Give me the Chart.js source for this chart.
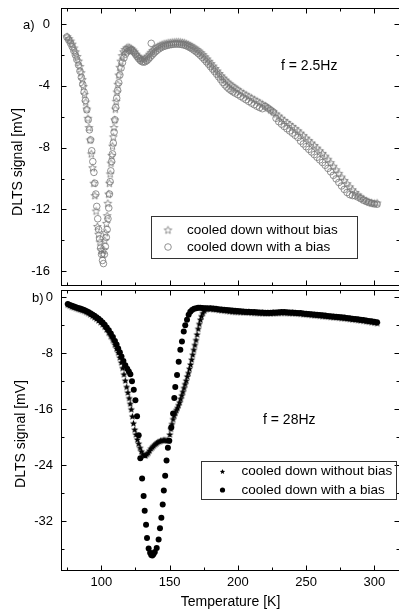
<!DOCTYPE html>
<html>
<head>
<meta charset="utf-8">
<script src="https://cdn.jsdelivr.net/npm/chart.js@4.4.0/dist/chart.umd.min.js"></script>
<style>
  html, body { margin: 0; padding: 0; background: #fff; overflow: hidden; width: 399px; height: 615px; }
  canvas { position: absolute; left: 0; }
  #topChart { top: 0; }
  #bottomChart { top: 288px; }
</style>
</head>
<body>
<canvas id="topChart" width="400" height="288"></canvas>
<canvas id="bottomChart" width="400" height="327"></canvas>
<script>
// a) f = 2.5Hz -- temperature [K] and DLTS signal [mV]
const topStarT = [
  75.0, 76.3, 77.6, 78.8, 80.0, 81.2, 82.3, 83.4, 84.4, 85.3,
  86.2, 87.0, 87.8, 88.6, 89.4, 90.2, 91.0, 91.8, 92.7, 93.6,
  94.5, 95.3, 96.2, 97.1, 98.0, 99.0, 100.0, 101.0, 101.8, 102.5,
  103.0, 103.7, 104.3, 104.8, 105.3, 105.9, 106.5, 107.1, 107.6, 108.2,
  108.8, 109.3, 109.8, 110.3, 110.9, 111.5, 112.1, 112.8, 113.5, 114.3,
  115.2, 116.2, 117.3, 118.4, 119.6, 120.8, 122.0, 123.2, 124.4, 125.6,
  126.8, 128.0, 129.2, 130.4, 131.6, 132.8, 134.0, 135.2, 136.4, 137.6,
  138.8, 140.0, 141.5, 143.0, 144.5, 146.0, 147.5, 149.0, 150.5, 152.0,
  153.5, 155.0, 156.5, 158.0, 159.5, 161.0, 162.5, 164.0, 165.5, 167.0,
  168.5, 170.0, 171.5, 173.0, 174.5, 176.0, 177.5, 179.0, 180.5, 182.0,
  183.5, 185.0, 186.5, 188.0, 189.5, 191.0, 192.5, 194.0, 195.5, 197.0,
  198.5, 200.0, 202.0, 204.0, 206.0, 208.0, 210.0, 212.0, 214.0, 216.0,
  218.0, 220.0, 222.0, 224.0, 226.0, 228.0, 230.0, 232.0, 234.0, 236.0,
  238.0, 240.0, 242.0, 244.0, 246.0, 248.0, 250.0, 252.0, 254.0, 256.0,
  258.0, 260.0, 262.0, 264.0, 266.0, 268.0, 270.0, 272.0, 274.0, 276.0,
  278.0, 280.0, 282.0, 284.0, 286.0, 288.0, 290.0, 292.0, 294.0, 296.0,
  298.0, 300.0, 302.0
];
const topStarV = [
  -0.82, -0.95, -1.10, -1.30, -1.55, -1.80, -2.10, -2.40, -2.75, -3.15,
  -3.60, -4.05, -4.55, -5.05, -5.50, -6.10, -6.70, -7.50, -8.40, -9.30,
  -10.3, -11.1, -12.1, -13.1, -13.6, -14.1, -14.6, -14.9, -14.6, -14.0,
  -13.5, -12.9, -12.4, -11.6, -11.0, -10.3, -9.70, -9.00, -8.50, -7.90,
  -7.30, -6.70, -6.20, -5.50, -5.00, -4.40, -3.90, -3.30, -2.80, -2.40,
  -2.05, -1.80, -1.65, -1.55, -1.50, -1.52, -1.58, -1.68, -1.80, -1.95,
  -2.08, -2.18, -2.25, -2.28, -2.25, -2.18, -2.08, -1.95, -1.83, -1.72,
  -1.62, -1.53, -1.45, -1.38, -1.32, -1.28, -1.25, -1.22, -1.20, -1.18,
  -1.17, -1.16, -1.16, -1.17, -1.19, -1.22, -1.27, -1.33, -1.40, -1.48,
  -1.56, -1.65, -1.75, -1.86, -1.98, -2.12, -2.26, -2.41, -2.56, -2.72,
  -2.88, -3.04, -3.20, -3.36, -3.50, -3.63, -3.76, -3.87, -3.97, -4.07,
  -4.16, -4.25, -4.37, -4.48, -4.58, -4.68, -4.78, -4.88, -4.98, -5.08,
  -5.18, -5.30, -5.42, -5.55, -5.68, -5.82, -5.96, -6.10, -6.24, -6.37,
  -6.50, -6.63, -6.77, -6.91, -7.06, -7.22, -7.38, -7.54, -7.70, -7.86,
  -8.03, -8.20, -8.37, -8.55, -8.75, -8.97, -9.20, -9.43, -9.66, -9.90,
  -10.12, -10.33, -10.53, -10.72, -10.90, -11.06, -11.20, -11.32, -11.42, -11.50,
  -11.56, -11.60, -11.58
];
const topCircT = [
  74.8, 76.2, 77.5, 78.7, 79.9, 81.0, 82.1, 83.3, 84.4, 85.4,
  86.4, 87.4, 88.4, 89.4, 90.4, 91.3, 92.2, 93.0, 93.8, 94.6,
  95.3, 96.0, 96.7, 97.4, 98.1, 98.8, 99.5, 100.2, 100.9, 101.6,
  102.3, 103.0, 103.7, 104.3, 104.9, 105.5, 106.0, 106.5, 107.0, 107.6,
  108.2, 108.8, 109.4, 110.0, 110.6, 111.3, 112.0, 112.8, 113.6, 114.5,
  115.5, 116.6, 117.8, 119.0, 120.2, 121.4, 122.6, 123.8, 125.0, 126.2,
  127.4, 128.6, 129.8, 131.0, 132.2, 133.4, 134.6, 135.8, 136.6, 137.2,
  138.4, 139.6, 141.0, 142.5, 144.0, 145.5, 147.0, 148.5, 150.0, 151.5,
  153.0, 154.5, 156.0, 157.5, 159.0, 160.5, 162.0, 163.5, 165.0, 166.5,
  168.0, 169.5, 171.0, 172.5, 174.0, 175.5, 177.0, 178.5, 180.0, 181.5,
  183.0, 184.5, 186.0, 187.5, 189.0, 190.5, 192.0, 193.5, 195.0, 196.5,
  198.0, 200.0, 202.0, 204.0, 206.0, 208.0, 210.0, 212.0, 214.0, 216.0,
  218.0, 220.0, 222.0, 224.0, 226.0, 228.0, 230.0, 232.0, 234.0, 236.0,
  238.0, 240.0, 242.0, 244.0, 246.0, 248.0, 250.0, 252.0, 254.0, 256.0,
  258.0, 260.0, 262.0, 264.0, 266.0, 268.0, 270.0, 272.0, 274.0, 276.0,
  278.0, 280.0, 282.0, 284.0, 286.0, 288.0, 290.0, 292.0, 294.0, 296.0,
  298.0, 300.0, 302.0
];
const topCircV = [
  -0.84, -1.04, -1.25, -1.47, -1.73, -2.00, -2.30, -2.65, -3.05, -3.45,
  -3.90, -4.40, -4.95, -5.55, -6.20, -6.85, -7.50, -8.20, -8.90, -9.60,
  -10.3, -11.0, -11.8, -12.6, -13.3, -13.9, -14.5, -14.9, -15.3, -15.5,
  -14.9, -14.4, -13.8, -13.3, -12.6, -11.9, -11.0, -10.2, -9.50, -8.90,
  -8.40, -7.70, -7.00, -6.20, -5.40, -4.80, -4.30, -3.80, -3.30, -2.85,
  -2.50, -2.20, -1.95, -1.80, -1.72, -1.70, -1.74, -1.82, -1.95, -2.10,
  -2.24, -2.36, -2.44, -2.47, -2.44, -2.37, -2.27, -2.15, -1.25, -2.02,
  -1.90, -1.80, -1.70, -1.60, -1.52, -1.46, -1.42, -1.38, -1.35, -1.33,
  -1.31, -1.30, -1.30, -1.31, -1.33, -1.36, -1.40, -1.46, -1.53, -1.61,
  -1.70, -1.80, -1.91, -2.03, -2.16, -2.30, -2.45, -2.60, -2.76, -2.92,
  -3.08, -3.25, -3.42, -3.60, -3.78, -3.94, -4.08, -4.20, -4.30, -4.39,
  -4.47, -4.57, -4.68, -4.79, -4.90, -5.01, -5.12, -5.22, -5.32, -5.41,
  -5.48, -5.32, -5.44, -5.57, -5.70, -6.10, -6.32, -6.48, -6.63, -6.78,
  -6.92, -7.06, -7.20, -7.34, -7.58, -7.76, -7.94, -8.11, -8.28, -8.45,
  -8.62, -8.79, -8.96, -9.14, -9.34, -9.56, -9.79, -10.02, -10.25, -10.48,
  -10.70, -10.90, -11.04, -11.10, -11.12, -11.20, -11.30, -11.40, -11.48, -11.55,
  -11.60, -11.64, -11.66
];

// b) f = 28Hz
const botStarT = [
  75.5, 77.0, 78.5, 80.0, 81.5, 83.0, 84.5, 86.0, 87.5, 89.0,
  90.5, 92.0, 93.5, 95.0, 96.5, 98.0, 99.5, 101.0, 102.5, 104.0,
  105.5, 107.0, 108.5, 110.0, 111.2, 112.4, 113.6, 114.6, 115.6, 116.6,
  117.6, 118.6, 119.5, 120.4, 121.2, 122.0, 122.8, 123.6, 124.5, 125.4,
  126.4, 127.4, 128.4, 129.4, 130.4, 131.4, 132.4, 133.4, 134.4, 135.4,
  136.4, 137.4, 138.4, 139.4, 140.4, 141.4, 142.4, 143.4, 144.4, 145.4,
  146.4, 147.4, 148.4, 149.4, 150.2, 151.0, 151.8, 152.6, 153.4, 154.2,
  155.0, 155.8, 156.6, 157.4, 158.2, 159.0, 159.8, 160.6, 161.4, 162.2,
  163.0, 163.8, 164.6, 165.4, 166.2, 167.0, 167.8, 168.6, 169.4, 170.2,
  171.0, 171.8, 172.6, 173.4, 174.4, 175.4, 176.6, 178.0, 180.0, 182.0,
  184.0, 186.0, 188.0, 190.0, 192.0, 194.0, 196.0, 198.0, 200.0, 202.0,
  204.0, 206.0, 208.0, 210.0, 212.0, 214.0, 216.0, 218.0, 220.0, 222.0,
  224.0, 226.0, 228.0, 230.0, 232.0, 234.0, 236.0, 238.0, 240.0, 242.0,
  244.0, 246.0, 248.0, 250.0, 252.0, 254.0, 256.0, 258.0, 260.0, 262.0,
  264.0, 266.0, 268.0, 270.0, 272.0, 274.0, 276.0, 278.0, 280.0, 282.0,
  284.0, 286.0, 288.0, 290.0, 292.0, 294.0, 296.0, 298.0, 300.0, 302.0
];
const botStarV = [
  -1.05, -1.20, -1.35, -1.45, -1.55, -1.65, -1.75, -1.85, -1.95, -2.10,
  -2.25, -2.45, -2.65, -2.85, -3.05, -3.30, -3.55, -3.85, -4.20, -4.60,
  -5.05, -5.55, -6.10, -6.75, -7.30, -7.90, -8.60, -9.30, -10.1, -11.0,
  -11.9, -12.8, -13.6, -14.4, -15.2, -16.0, -17.0, -18.0, -18.9, -19.6,
  -20.3, -20.9, -21.5, -22.0, -22.4, -22.6, -22.6, -22.4, -22.2, -21.9,
  -21.6, -21.4, -21.2, -21.0, -20.85, -20.7, -20.6, -20.5, -20.45, -20.4,
  -20.4, -20.4, -20.45, -20.5, -19.6, -18.8, -18.1, -17.4, -16.9, -16.5,
  -16.1, -15.8, -15.4, -15.0, -14.5, -14.0, -13.5, -12.95, -12.4, -11.9,
  -11.3, -10.8, -10.2, -9.60, -8.90, -8.20, -7.50, -6.80, -6.10, -5.30,
  -4.50, -3.80, -3.20, -2.70, -2.25, -1.90, -1.70, -1.60, -1.65, -1.70,
  -1.75, -1.80, -1.85, -1.90, -1.95, -2.00, -2.05, -2.08, -2.10, -2.12,
  -2.14, -2.16, -2.18, -2.20, -2.22, -2.24, -2.26, -2.28, -2.30, -2.30,
  -2.30, -2.28, -2.26, -2.24, -2.22, -2.22, -2.24, -2.26, -2.28, -2.30,
  -2.33, -2.36, -2.40, -2.44, -2.48, -2.52, -2.56, -2.60, -2.64, -2.68,
  -2.72, -2.76, -2.80, -2.84, -2.88, -2.92, -2.96, -3.00, -3.05, -3.10,
  -3.15, -3.20, -3.25, -3.30, -3.36, -3.42, -3.48, -3.55, -3.62, -3.70
];
const botCircT = [
  75.5, 77.0, 78.5, 80.0, 81.5, 83.0, 84.5, 86.0, 87.5, 89.0,
  90.5, 92.0, 93.5, 95.0, 96.5, 98.0, 99.5, 101.0, 102.5, 104.0,
  105.5, 107.0, 108.5, 110.0, 111.2, 112.4, 113.6, 114.8, 116.2, 117.6,
  119.0, 120.2, 121.3, 122.5, 123.8, 125.0, 126.2, 127.4, 128.6, 129.9,
  131.0, 131.8, 132.8, 133.5, 134.7, 135.8, 136.6, 137.4, 138.2, 139.2,
  140.6, 142.0, 143.0, 144.0, 145.0, 145.8, 146.8, 147.8, 148.8, 149.8,
  151.2, 152.6, 153.5, 154.2, 155.5, 156.7, 157.9, 159.1, 160.4, 161.5,
  162.8, 164.0, 165.2, 166.5, 168.0, 169.5, 171.0, 172.5, 174.0, 175.5,
  177.0, 178.5, 180.0, 182.0, 184.0, 186.0, 188.0, 190.0, 192.0, 194.0,
  196.0, 198.0, 200.0, 202.0, 204.0, 206.0, 208.0, 210.0, 212.0, 214.0,
  216.0, 218.0, 220.0, 222.0, 224.0, 226.0, 228.0, 230.0, 232.0, 234.0,
  236.0, 238.0, 240.0, 242.0, 244.0, 246.0, 248.0, 250.0, 252.0, 254.0,
  256.0, 258.0, 260.0, 262.0, 264.0, 266.0, 268.0, 270.0, 272.0, 274.0,
  276.0, 278.0, 280.0, 282.0, 284.0, 286.0, 288.0, 290.0, 292.0, 294.0,
  296.0, 298.0, 300.0, 302.0
];
const botCircV = [
  -0.95, -1.10, -1.22, -1.32, -1.42, -1.52, -1.62, -1.72, -1.82, -1.95,
  -2.10, -2.28, -2.46, -2.65, -2.85, -3.08, -3.32, -3.60, -3.92, -4.30,
  -4.72, -5.18, -5.68, -6.25, -6.75, -7.30, -7.85, -8.45, -9.10, -9.70,
  -10.2, -10.6, -11.0, -12.0, -13.2, -14.7, -17.0, -19.7, -23.0, -25.9,
  -28.4, -30.5, -32.5, -34.4, -35.9, -36.5, -36.8, -36.9, -36.7, -36.4,
  -35.8, -34.6, -33.0, -31.5, -29.6, -27.6, -25.5, -23.3, -21.5, -20.5,
  -18.6, -16.6, -14.4, -12.8, -11.1, -9.20, -7.50, -6.30, -4.90, -4.00,
  -3.20, -2.50, -2.05, -1.80, -1.65, -1.55, -1.50, -1.50, -1.52, -1.55,
  -1.58, -1.62, -1.55, -1.60, -1.65, -1.70, -1.74, -1.78, -1.82, -1.86,
  -1.90, -1.93, -1.96, -1.99, -2.02, -2.05, -2.08, -2.10, -2.12, -2.14,
  -2.16, -2.18, -2.20, -2.20, -2.20, -2.18, -2.16, -2.14, -2.12, -2.12,
  -2.14, -2.16, -2.18, -2.20, -2.23, -2.26, -2.30, -2.34, -2.38, -2.42,
  -2.46, -2.50, -2.54, -2.58, -2.62, -2.66, -2.70, -2.74, -2.78, -2.82,
  -2.86, -2.90, -2.95, -3.00, -3.05, -3.10, -3.15, -3.20, -3.26, -3.32,
  -3.38, -3.44, -3.50, -3.56
];

const seriesLabels = ['cooled down without bias', 'cooled down with a bias'];
const xTickLabels = [100, 150, 200, 250, 300];

const FONT = '"Liberation Sans", Arial, sans-serif';
const GRAY = '#777777';
Chart.defaults.font.family = FONT;
Chart.defaults.color = '#000';

// five pointed star used as point style
function starImage(r, fill, stroke) {
  const size = Math.ceil(r * 2) + 3;
  const c = document.createElement('canvas');
  c.width = size; c.height = size;
  const g = c.getContext('2d');
  const cx = size / 2, cy = size / 2 + 0.3;
  g.beginPath();
  for (let i = 0; i < 10; i++) {
    const rr = i % 2 ? r * 0.45 : r;
    const a = -Math.PI / 2 + i * Math.PI / 5;
    const px = cx + rr * Math.cos(a), py = cy + rr * Math.sin(a);
    if (i) g.lineTo(px, py); else g.moveTo(px, py);
  }
  g.closePath();
  if (fill) { g.fillStyle = fill; g.fill(); }
  if (stroke) { g.strokeStyle = stroke; g.lineWidth = 0.8; g.stroke(); }
  return c;
}
const openStar = starImage(4, null, GRAY);
const blackStar = starImage(3.8, '#000', null);
const smallBlackStar = starImage(2.8, '#000', null);

const pts = (xs, ys) => xs.map((x, i) => ({ x: x, y: ys[i] }));

// frame with inward ticks on all four sides
function makeFrame(o) {
  return {
    id: 'frame',
    afterDatasetsDraw(chart) {
      const { ctx, chartArea: a } = chart;
      const x = chart.scales.x, y = chart.scales.y;
      const L = Math.round(a.left) + 0.5, R = Math.round(a.right) - 0.5;
      const T = Math.round(a.top) + 0.5, B = Math.round(a.bottom) - 0.5;
      ctx.save();
      ctx.strokeStyle = '#000';
      ctx.lineWidth = 1;
      ctx.strokeRect(L, T, R - L, B - T);
      ctx.beginPath();
      for (let v = o.xFirst; v <= x.max; v += o.xStep) {
        const p = Math.round(x.getPixelForValue(v)) + 0.5;
        const len = v % o.xMajor === 0 ? 5 : 3;
        ctx.moveTo(p, B); ctx.lineTo(p, B - len);
        ctx.moveTo(p, T); ctx.lineTo(p, T + len);
      }
      for (let v = Math.ceil(y.min / o.yStep) * o.yStep; v <= y.max; v += o.yStep) {
        const p = Math.round(y.getPixelForValue(v)) + 0.5;
        const len = v % o.yMajor === 0 ? 5 : 3;
        ctx.moveTo(L, p); ctx.lineTo(L + len, p);
        ctx.moveTo(R, p); ctx.lineTo(R - len, p);
      }
      ctx.stroke();
      ctx.restore();
    }
  };
}

// panel letter, frequency note, y title and boxed legend
function makeExtras(o) {
  return {
    id: 'extras',
    afterDraw(chart) {
      const ctx = chart.ctx;
      ctx.save();
      ctx.fillStyle = '#000';
      ctx.textBaseline = 'middle';
      o.texts.forEach(t => {
        ctx.save();
        ctx.font = t.font;
        ctx.translate(t.x, t.y);
        if (t.rotate) ctx.rotate(t.rotate);
        ctx.textAlign = t.align || 'left';
        ctx.fillText(t.text, 0, 0);
        ctx.restore();
      });
      const lg = o.legend;
      ctx.strokeStyle = '#333';
      ctx.lineWidth = 1;
      ctx.strokeRect(lg.x + 0.5, lg.y + 0.5, lg.w, lg.h);
      ctx.font = lg.font;
      ctx.textAlign = 'left';
      lg.items.forEach(it => {
        if (it.image) {
          ctx.drawImage(it.image, it.mx - it.image.width / 2, it.my - it.image.height / 2);
        } else {
          ctx.beginPath();
          ctx.arc(it.mx, it.my, it.r, 0, Math.PI * 2);
          if (it.fill) { ctx.fillStyle = it.fill; ctx.fill(); }
          if (it.stroke) { ctx.strokeStyle = it.stroke; ctx.lineWidth = 0.8; ctx.stroke(); }
        }
        ctx.fillStyle = '#000';
        ctx.fillText(it.text, lg.tx, it.my);
      });
      ctx.restore();
    }
  };
}

const X_MIN = 70.5, X_MAX = 318.8;
const noPad = s => { s.paddingTop = 0; s.paddingBottom = 0; s.paddingLeft = 0; s.paddingRight = 0; };

new Chart(document.getElementById('topChart'), {
  type: 'scatter',
  data: {
    datasets: [
      { label: seriesLabels[0], data: pts(topStarT, topStarV), pointStyle: openStar, pointRadius: 4 },
      { label: seriesLabels[1], data: pts(topCircT, topCircV), pointStyle: 'circle', pointRadius: 3.3,
        borderColor: GRAY, borderWidth: 0.8, backgroundColor: 'rgba(0,0,0,0)' }
    ]
  },
  options: {
    responsive: false,
    animation: false,
    events: [],
    layout: { autoPadding: false, padding: { top: 8, bottom: 2, left: 0, right: 0 } },
    plugins: { legend: { display: false }, tooltip: { enabled: false } },
    scales: {
      x: { type: 'linear', min: X_MIN, max: X_MAX, display: false },
      y: {
        type: 'linear', min: -16.95, max: 1.035,
        afterFit: s => { s.width = 61; noPad(s); },
        grid: { display: false, drawTicks: false },
        border: { display: false },
        ticks: { stepSize: 4, includeBounds: false, padding: 11, font: { size: 13 }, color: '#000' }
      }
    }
  },
  plugins: [
    makeFrame({ xFirst: 75, xStep: 25, xMajor: 50, yStep: 2, yMajor: 4 }),
    makeExtras({
      texts: [
        { text: 'a)', x: 23, y: 25, font: '13px ' + FONT },
        { text: 'f = 2.5Hz', x: 281, y: 66, font: '14px ' + FONT },
        { text: 'DLTS signal [mV]', x: 18, y: 162, rotate: -Math.PI / 2, align: 'center', font: '14px ' + FONT }
      ],
      legend: {
        x: 151, y: 216, w: 206, h: 42, tx: 187, font: '13.5px ' + FONT,
        items: [
          { text: seriesLabels[0], mx: 168, my: 230, image: openStar },
          { text: seriesLabels[1], mx: 168, my: 247, r: 3.3, stroke: GRAY }
        ]
      }
    })
  ]
});

new Chart(document.getElementById('bottomChart'), {
  type: 'scatter',
  data: {
    datasets: [
      { label: seriesLabels[1], data: pts(botCircT, botCircV), pointStyle: 'circle', pointRadius: 3,
        backgroundColor: '#000', borderWidth: 0 },
      { label: seriesLabels[0], data: pts(botStarT, botStarV), pointStyle: blackStar, pointRadius: 4 }
    ]
  },
  options: {
    responsive: false,
    animation: false,
    events: [],
    layout: { autoPadding: false, padding: { top: 2, bottom: 0, left: 0, right: 0 } },
    plugins: { legend: { display: false }, tooltip: { enabled: false } },
    scales: {
      x: {
        type: 'linear', min: X_MIN, max: X_MAX,
        afterBuildTicks: s => { s.ticks = xTickLabels.map(v => ({ value: v })); },
        afterFit: s => { s.height = 44; noPad(s); },
        grid: { display: false, drawTicks: false },
        border: { display: false },
        ticks: { autoSkip: false, maxRotation: 0, padding: 4, font: { size: 13 }, color: '#000' },
        title: { display: true, text: 'Temperature [K]', font: { size: 14 }, color: '#000', padding: { top: 0, bottom: 4 } }
      },
      y: {
        type: 'linear', min: -39.1, max: 1.04,
        afterFit: s => { s.width = 61; noPad(s); },
        grid: { display: false, drawTicks: false },
        border: { display: false },
        ticks: { stepSize: 8, includeBounds: false, padding: 8, font: { size: 13 }, color: '#000' }
      }
    }
  },
  plugins: [
    makeFrame({ xFirst: 75, xStep: 25, xMajor: 50, yStep: 4, yMajor: 8 }),
    makeExtras({
      texts: [
        { text: 'b)', x: 32, y: 10, font: '13px ' + FONT },
        { text: 'f = 28Hz', x: 263, y: 132, font: '14px ' + FONT },
        { text: 'DLTS signal [mV]', x: 21, y: 146, rotate: -Math.PI / 2, align: 'center', font: '14px ' + FONT }
      ],
      legend: {
        x: 201, y: 173, w: 195, h: 38, tx: 241.5, font: '13.5px ' + FONT,
        items: [
          { text: seriesLabels[0], mx: 222.5, my: 183.5, image: smallBlackStar },
          { text: seriesLabels[1], mx: 222.5, my: 202, r: 2.6, fill: '#000' }
        ]
      }
    })
  ]
});
</script>
</body>
</html>
